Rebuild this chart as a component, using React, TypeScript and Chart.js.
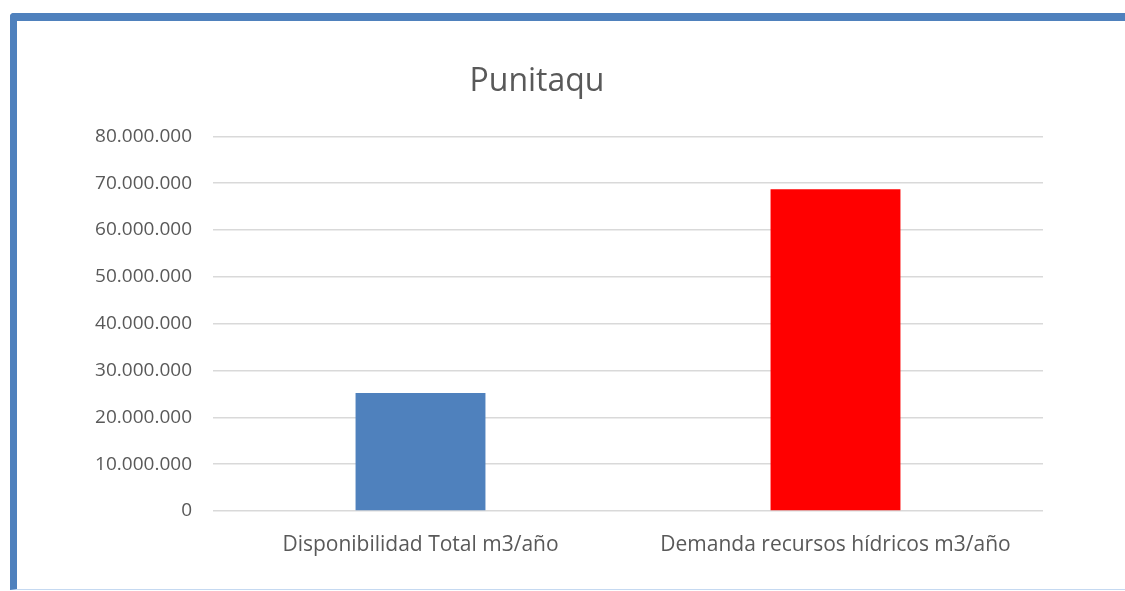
import React, { useEffect, useRef } from "react";
import { Chart, registerables } from "chart.js";

Chart.register(...registerables);

const categories = ["Disponibilidad Total m3/año", "Demanda recursos hídricos m3/año"];
const values = [25200000, 68700000];
const barColors = ["#4F81BD", "#FF0000"];
const titleText = "Punitaqu";

const fmt = (v: number) => Math.round(v).toString().replace(/\B(?=(\d{3})+(?!\d))/g, ".");

export default function App() {
  const ref = useRef<HTMLCanvasElement | null>(null);
  useEffect(() => {
    if (!ref.current) return;
    const chart = new Chart(ref.current, {
      type: "bar",
      data: {
        labels: categories,
        datasets: [
          {
            data: values,
            backgroundColor: barColors,
            barPercentage: 0.313,
            categoryPercentage: 1,
          },
        ],
      },
      options: {
        animation: false,
        responsive: false,
        maintainAspectRatio: false,
        layout: { padding: { left: 31, right: 82, top: 0, bottom: 0 } },
        plugins: {
          legend: { display: false },
          tooltip: { enabled: false },
          title: {
            display: true,
            text: titleText,
            color: "#595959",
            font: { family: "Open Sans", size: 32, weight: "normal" },
            padding: { top: 63, bottom: 35 },
          },
        },
        scales: {
          x: {
            grid: { display: false, drawTicks: false },
            border: { display: false },
            ticks: {
              color: "#595959",
              font: { family: "Open Sans", size: 21 },
              padding: 21,
              maxRotation: 0,
            },
            afterFit: (s: any) => {
              s.height = 80;
            },
          },
          y: {
            min: 0,
            max: 80000000,
            grid: { color: "#D9D9D9", lineWidth: 1.5, drawTicks: false },
            border: { display: false },
            ticks: {
              stepSize: 10000000,
              color: "#595959",
              font: { family: "Open Sans", size: 19 },
              padding: 21,
              callback: (v: any) => fmt(Number(v)),
            },
            afterFit: (s: any) => {
              s.width = 182;
            },
          },
        },
      },
    });
    return () => chart.destroy();
  }, []);

  return (
    <div style={{ position: "fixed", left: 0, top: 0, width: 1125, height: 591, background: "#fff", overflow: "hidden" }}>
      <div
        style={{
          position: "absolute",
          left: 10,
          top: 13,
          width: 1200,
          height: 568,
          borderLeft: "7px solid #4F81BD",
          borderTop: "8px solid #4F81BD",
          borderBottom: "1px solid #C5D9F1",
          borderTopLeftRadius: 4,
          boxSizing: "content-box",
        }}
      />
      <canvas ref={ref} width={1125} height={591} style={{ position: "absolute", left: 0, top: 0 }} />
    </div>
  );
}
